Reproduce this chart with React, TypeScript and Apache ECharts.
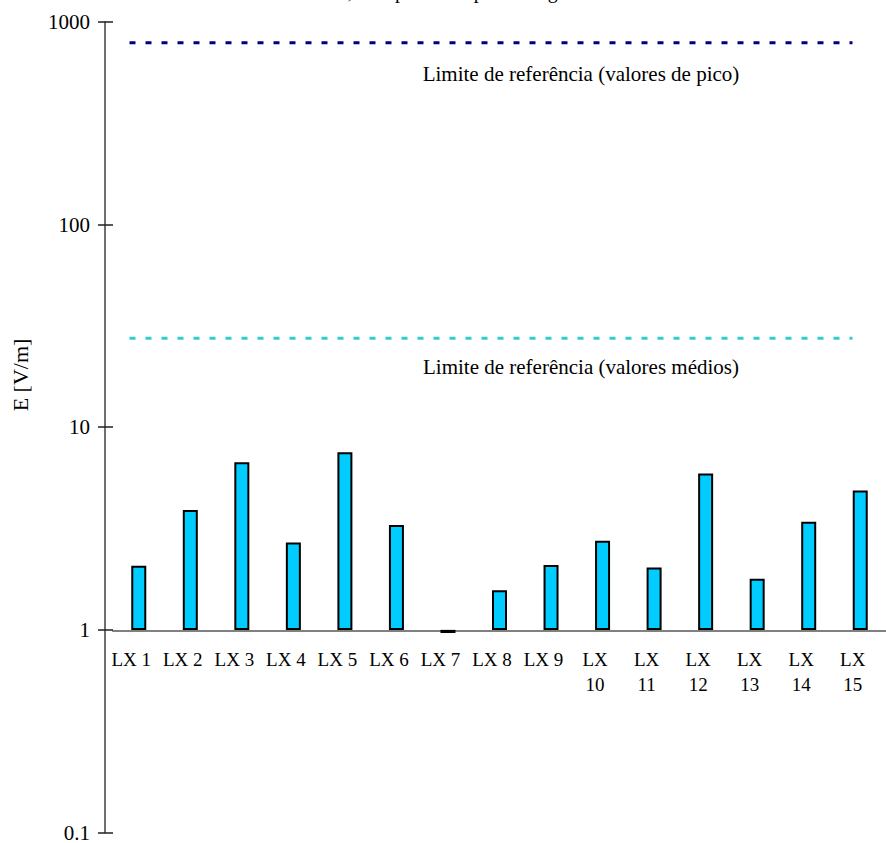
import React, { useEffect, useRef } from "react";
import * as echarts from "echarts";

const categories = ["LX 1", "LX 2", "LX 3", "LX 4", "LX 5", "LX 6", "LX 7", "LX 8", "LX 9", "LX 10", "LX 11", "LX 12", "LX 13", "LX 14", "LX 15"];
const fieldValues = [2.07, 3.9, 6.72, 2.7, 7.53, 3.29, 0.965, 1.57, 2.09, 2.75, 2.03, 5.91, 1.79, 3.42, 4.88];
const peakLimit = 790;
const meanLimit = 27.5;
const refLineSpan = [0.32, 14.35];
const peakLabel = "Limite de referência (valores de pico)";
const meanLabel = "Limite de referência (valores médios)";
const titleText = "Valores medidos, sem pico nem ponto singular";
const yName = "E [V/m]";

const FONT = "'Liberation Serif', 'Times New Roman', serif";

export default function App() {
  const ref = useRef<HTMLDivElement>(null);
  useEffect(() => {
    if (!ref.current) return;
    const chart = echarts.init(ref.current, null, { renderer: "svg" });
    const option: any = {
      animation: false,
      backgroundColor: "#ffffff",
      textStyle: { fontFamily: FONT },
      grid: [
        { left: 113, top: 22, width: 787, height: 812 },
        { left: 113, top: 600, width: 787, height: 31 },
      ],
      xAxis: [
        { type: "category", gridIndex: 0, data: categories, show: false },
        { type: "value", gridIndex: 0, min: 0, max: 15, show: false },
        {
          type: "category",
          gridIndex: 1,
          data: categories,
          axisLine: { show: true, onZero: false, lineStyle: { color: "#808080", width: 2 } },
          axisTick: { show: false },
          axisLabel: {
            color: "#000",
            fontFamily: FONT,
            fontSize: 19,
            margin: 16,
            lineHeight: 25,
            interval: 0,
            padding: [0, 15, 0, 0],
            formatter: (v: string) => {
              const n = parseInt(v.replace("LX ", ""), 10);
              return n >= 10 ? v.replace(" ", "\n") : v;
            },
          },
        },
      ],
      yAxis: [
        {
          type: "log",
          gridIndex: 0,
          position: "left",
          logBase: 10,
          min: 0.1,
          max: 1000,
          offset: 8,
          axisLine: { show: true, onZero: false, lineStyle: { color: "#404040", width: 1.5 } },
          axisTick: { show: true, inside: false, length: 7, lineStyle: { color: "#202020", width: 1.5 } },
          axisLabel: {
            color: "#000",
            fontFamily: FONT,
            fontSize: 21,
            margin: 15,
            formatter: (v: number) => String(v),
          },
          splitLine: { show: false },
          minorTick: { show: false },
        },
        {
          type: "log",
          gridIndex: 0,
          position: "left",
          logBase: 10,
          min: 0.1,
          max: 1000,
          offset: 0,
          axisLine: { show: true, onZero: false, lineStyle: { color: "#404040", width: 1, opacity: 0 } },
          axisTick: { show: true, inside: false, length: 8, lineStyle: { color: "#202020", width: 1.5 } },
          axisLabel: { show: false },
          splitLine: { show: false },
        },
        { type: "value", gridIndex: 1, show: false },
      ],
      series: [
        {
          type: "bar",
          xAxisIndex: 0,
          yAxisIndex: 0,
          data: fieldValues,
          barWidth: 15,
          itemStyle: { color: "#00CCFF", borderColor: "#000", borderWidth: 2 },
          z: 5,
        },
        {
          type: "line",
          xAxisIndex: 1,
          yAxisIndex: 0,
          data: [[refLineSpan[0], peakLimit], [refLineSpan[1], peakLimit]],
          symbol: "none",
          lineStyle: { color: "#000080", width: 3, type: [6, 10] },
        },
        {
          type: "line",
          xAxisIndex: 1,
          yAxisIndex: 0,
          data: [[refLineSpan[0], meanLimit], [refLineSpan[1], meanLimit]],
          symbol: "none",
          lineStyle: { color: "#33CCCC", width: 3, type: [6, 10] },
        },
        {
          type: "line",
          xAxisIndex: 1,
          yAxisIndex: 1,
          data: [],
          symbol: "none",
          silent: true,
        },
      ],
      graphic: [
        {
          type: "text",
          x: 215,
          y: -9,
          style: { text: titleText, fontFamily: FONT, fontSize: 20, fill: "#000", textAlign: "left", textVerticalAlign: "middle" },
        },
        {
          type: "text",
          x: 581,
          y: 74,
          style: { text: peakLabel, fontFamily: FONT, fontSize: 21, fill: "#000", textAlign: "center", textVerticalAlign: "middle" },
        },
        {
          type: "text",
          x: 581,
          y: 367,
          style: { text: meanLabel, fontFamily: FONT, fontSize: 21, fill: "#000", textAlign: "center", textVerticalAlign: "middle" },
        },
        {
          type: "text",
          x: 20,
          y: 375,
          rotation: Math.PI / 2,
          style: { text: yName, fontFamily: FONT, fontSize: 22, fill: "#000", textAlign: "center", textVerticalAlign: "middle" },
        },
      ],
    };
    chart.setOption(option);
    return () => chart.dispose();
  }, []);
  return <div ref={ref} style={{ position: "fixed", left: 0, top: 0, width: 886, height: 843 }} />;
}
